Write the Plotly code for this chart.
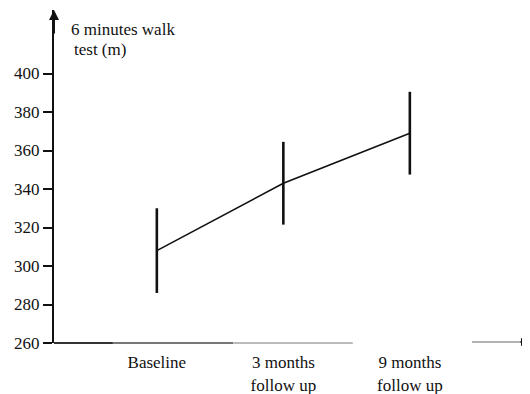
import plotly.graph_objects as go

categories = ["Baseline", "3 months<br>follow up", "9 months<br>follow up"]
mean_walk = [308, 343, 369]
err_walk = [22, 21.5, 21.5]
y_ticks = [260, 280, 300, 320, 340, 360, 380, 400]
y_title_lines = ["6 minutes walk", "test (m)"]

SERIF = "Liberation Serif, Times New Roman, serif"
FS = 17

fig = go.Figure()
fig.add_trace(go.Scatter(
    x=categories, y=mean_walk,
    mode="lines",
    line=dict(color="#111111", width=1.6),
    error_y=dict(type="data", array=err_walk, visible=True,
                 color="#111111", thickness=2.6, width=0),
    showlegend=False,
))

# page body has an 8px margin, so the figure is shifted by (8, 8)
fig.update_layout(
    width=522, height=386,
    margin=dict(l=46, r=1, t=2, b=51),
    paper_bgcolor="white", plot_bgcolor="white",
    font=dict(family=SERIF, size=FS, color="#111111"),
    xaxis=dict(
        type="category", range=[-0.813, 2.942], automargin=False,
        showline=False, showgrid=False, zeroline=False,
        ticks="outside", ticklen=4, tickcolor="rgba(0,0,0,0)",
        tickfont=dict(family=SERIF, size=FS, color="#111111"),
    ),
    yaxis=dict(
        range=[260, 433], tickvals=y_ticks, automargin=False,
        showline=True, linecolor="#111111", linewidth=2,
        showgrid=False, zeroline=False,
        ticks="outside", ticklen=9, tickwidth=1.5, tickcolor="#111111",
        tickfont=dict(family=SERIF, size=FS, color="#111111"),
    ),
    shapes=[
        dict(type="line", xref="paper", yref="paper", x0=0, x1=0.124, y0=0, y1=0,
             line=dict(color="#333333", width=2)),
        dict(type="line", xref="paper", yref="paper", x0=0.124, x1=0.377, y0=0, y1=0,
             line=dict(color="#777777", width=2)),
        dict(type="line", xref="paper", yref="paper", x0=0.377, x1=0.629, y0=0, y1=0,
             line=dict(color="#bbbbbb", width=2)),
        dict(type="line", xref="paper", yref="paper", x0=0.88, x1=0.99, y0=0.003, y1=0.003,
             line=dict(color="#999999", width=1.6)),
    ],
    annotations=[
        dict(x=0, y=1, xref="paper", yref="paper", ax=0, ay=25, text="",
             showarrow=True, arrowhead=2, arrowsize=1, arrowwidth=2, arrowcolor="#111111"),
        dict(x=1, y=0.003, xref="paper", yref="paper", ax=-10, ay=0, text="",
             showarrow=True, arrowhead=2, arrowsize=1, arrowwidth=1.6, arrowcolor="#111111"),
        dict(x=0.032, y=313 / 333, xref="paper", yref="paper",
             text=y_title_lines[0], showarrow=False, xanchor="left", yanchor="middle",
             font=dict(family=SERIF, size=FS, color="#111111")),
        dict(x=0.038, y=293 / 333, xref="paper", yref="paper",
             text=y_title_lines[1], showarrow=False, xanchor="left", yanchor="middle",
             font=dict(family=SERIF, size=FS, color="#111111")),
    ],
)

fig.write_html("out.html")
